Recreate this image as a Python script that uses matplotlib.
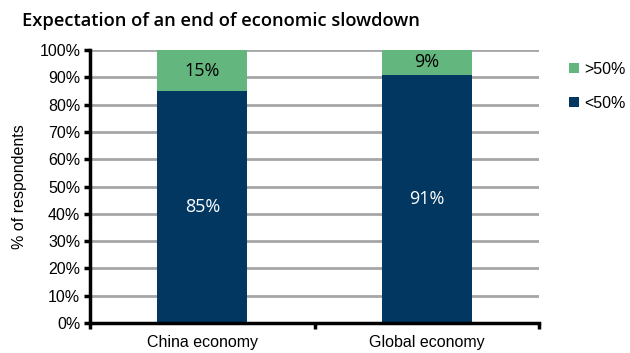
import matplotlib
matplotlib.use("Agg")
import matplotlib.pyplot as plt
from matplotlib.ticker import FixedLocator

categories = ["China economy", "Global economy"]
below50 = [85, 91]
above50 = [15, 9]
yticks = list(range(0, 101, 10))

plt.rcParams['font.family'] = ['Liberation Sans', 'DejaVu Sans']

fig = plt.figure(figsize=(6.3, 3.53), dpi=100)
ax = fig.add_axes([0.143, 0.085, 0.713, 0.773])

x = range(len(categories))
navy = "#023761"
green = "#63B77E"
b1 = ax.bar(x, below50, width=0.4, color=navy, label="<50%", zorder=3)
b2 = ax.bar(x, above50, width=0.4, bottom=below50, color=green, label=">50%", zorder=3)

for i, (lo, hi) in enumerate(zip(below50, above50)):
    ax.text(i, lo / 2, f"{lo}%", ha="center", va="center", color="white", fontsize=13, family="Open Sans", zorder=4)
    ax.text(i, lo + hi / 2, f"{hi}%", ha="center", va="center", color="black", fontsize=13, family="Open Sans", zorder=4)

ax.set_xlim(-0.5, 1.5)
ax.set_ylim(0, 100)
ax.set_yticks(yticks)
ax.set_yticklabels([f"{t}%" for t in yticks], fontsize=11.5)
ax.yaxis.grid(True, color="#A6A6A6", linewidth=2, zorder=0)
ax.set_ylabel("% of respondents", fontsize=11.5, labelpad=9)

ax.set_xticks(list(x))
ax.set_xticklabels(categories, fontsize=11.5)
ax.tick_params(axis="x", length=0, pad=9)
ax.xaxis.set_minor_locator(FixedLocator([-0.5, 0.5, 1.5]))
ax.tick_params(axis="x", which="minor", length=4, width=2.5, color="black")
ax.tick_params(axis="y", length=4, width=2.5, color="black", pad=3)

for s in ["top", "right"]:
    ax.spines[s].set_visible(False)
for s in ["left", "bottom"]:
    ax.spines[s].set_linewidth(2.5)
    ax.spines[s].set_color("black")
    ax.spines[s].set_zorder(5)

handles = [b2, b1]
ax.legend(handles, [">50%", "<50%"], loc="upper left", bbox_to_anchor=(1.035, 1.01),
          frameon=False, fontsize=11.5, handlelength=0.6, handleheight=0.6,
          handletextpad=0.35, labelspacing=1.2)

fig.text(0.035, 0.94, "Expectation of an end of economic slowdown", fontsize=13.2,
         family="Open Sans", weight="semibold", ha="left", va="center")

fig.savefig("out.png", dpi=100)
